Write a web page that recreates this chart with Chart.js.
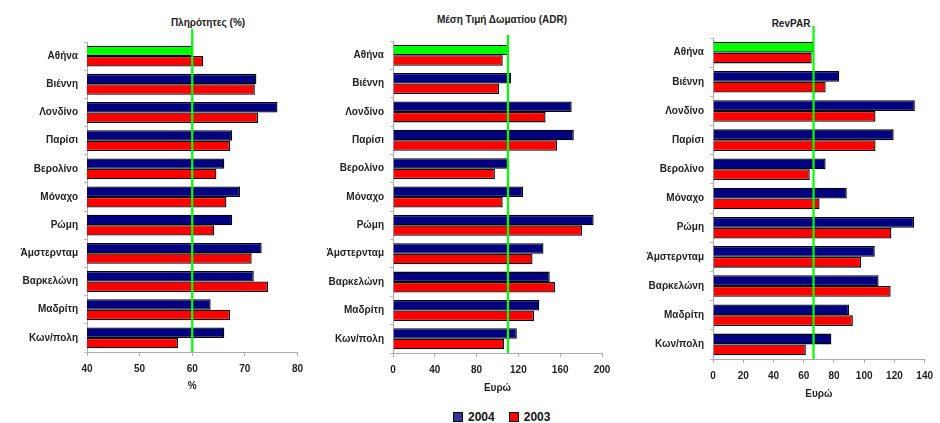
<!DOCTYPE html>
<html><head><meta charset="utf-8">
<script src="https://cdn.jsdelivr.net/npm/chart.js@4"></script>
<style>
body{margin:0;background:#fff;width:940px;height:423px;position:relative;overflow:hidden;font-family:"Liberation Sans",Arial,sans-serif;}
.p{position:absolute;}
.t{position:absolute;font:bold 10px "Liberation Sans",Arial,sans-serif;color:#222;transform:translateX(-50%);white-space:nowrap;}
.lg{position:absolute;top:410px;left:453px;font:bold 12px "Liberation Sans",Arial,sans-serif;color:#111;display:flex;align-items:center;}
.sq{display:inline-block;width:8px;height:8px;border:1px solid #000;margin-right:5px;}
</style></head><body>
<div class="t" style="left:208px;top:17px">Πληρότητες (%)</div>
<div class="t" style="left:502px;top:14px">Μέση Τιμή Δωματίου (ADR)</div>
<div class="t" style="left:791px;top:18px">RevPAR</div>
<div class="p" style="left:0;top:0;width:310px;height:400px"><canvas id="c1"></canvas></div>
<div class="p" style="left:310px;top:0;width:310px;height:400px"><canvas id="c2"></canvas></div>
<div class="p" style="left:620px;top:0;width:320px;height:410px"><canvas id="c3"></canvas></div>
<div class="lg"><span class="sq" style="background:#333399"></span>2004<span style="width:14px"></span><span class="sq" style="background:#ff0000"></span>2003</div>
<script>
const cities = ['Αθήνα','Βιέννη','Λονδίνο','Παρίσι','Βερολίνο','Μόναχο','Ρώμη','Άμστερνταμ','Βαρκελώνη','Μαδρίτη','Κων/πολη'];
const occ2004 = [60.0, 72.2, 76.2, 67.6, 66.1, 69.1, 67.6, 73.2, 71.7, 63.5, 66.1];
const occ2003 = [62.1, 71.9, 72.5, 67.2, 64.6, 66.5, 64.2, 71.3, 74.4, 67.2, 57.3];
const adr2004 = [110, 113, 171, 173, 111, 124.5, 192, 144, 150, 140, 118.5];
const adr2003 = [105, 101.5, 146, 157, 97.5, 105, 181, 133.5, 155, 135, 106.5];
const rev2004 = [66.5, 83.5, 133.5, 119.5, 74.5, 88.5, 133, 107, 109.5, 90, 78.3];
const rev2003 = [65.3, 74.5, 107.5, 107.5, 64, 70.5, 118, 98, 117.5, 92.5, 61.4];
const occTicks = [40,50,60,70,80];
const adrTicks = [0,40,80,120,160,200];
const revTicks = [0,20,40,60,80,100,120,140];

const NAVY='#000080', RED='#ff0000', GREEN='#00ff00';

const refLine = {
  id:'refLine',
  afterDatasetsDraw(chart, args, opts){
    const x = chart.scales.x.getPixelForValue(opts.value);
    const ctx = chart.ctx;
    ctx.save();
    ctx.strokeStyle = GREEN; ctx.lineWidth = 2.2;
    ctx.beginPath();
    ctx.moveTo(x, chart.chartArea.top - opts.extend);
    ctx.lineTo(x, chart.chartArea.bottom);
    ctx.stroke();
    ctx.restore();
  }
};

function make(id, d04, d03, ticks, xTitle, yW, pad, xH, ext, tPadB){
  const min = ticks[0], max = ticks[ticks.length-1];
  new Chart(document.getElementById(id), {
    type:'bar',
    data:{labels:cities, datasets:[
      {label:'2004', data:d04, backgroundColor:d04.map((v,i)=>i===0?GREEN:NAVY), borderColor:'#000', borderWidth:1.3},
      {label:'2003', data:d03, backgroundColor:RED, borderColor:'#000', borderWidth:1.3}
    ]},
    options:{
      indexAxis:'y', responsive:true, maintainAspectRatio:false, animation:false,
      layout:{padding:pad},
      datasets:{bar:{categoryPercentage:0.74, barPercentage:1.0}},
      plugins:{legend:{display:false}, tooltip:{enabled:false}, title:{display:false},
        refLine:{value:d04[0], extend:ext}},
      scales:{
        x:{type:'linear', min:min, max:max, afterBuildTicks(s){s.ticks = ticks.map(v=>({value:v}));},
          afterFit(s){s.height = xH;},
          grid:{drawOnChartArea:false, drawTicks:true, tickLength:4, color:'#aaa'},
          border:{color:'#aaa', width:1},
          ticks:{font:{family:'Liberation Sans', size:10, weight:'bold'}, color:'#222', padding:7},
          title:{display:true, text:xTitle, font:{family:'Liberation Sans', size:10, weight:'bold'}, color:'#222', padding:{top:2,bottom:tPadB}}
        },
        y:{afterFit(s){s.width = yW;},
          grid:{drawOnChartArea:false, drawTicks:true, tickLength:3, color:'#bbb', offset:true},
          border:{color:'#aaa', width:1},
          ticks:{font:{family:'Liberation Sans', size:10, weight:'bold'}, color:'#222', padding:6}
        }
      }
    },
    plugins:[refLine]
  });
}
make('c1', occ2004, occ2003, occTicks, '%', 87, {top:42, right:10, left:0, bottom:0}, 48, 13, 8);
make('c2', adr2004, adr2003, adrTicks, 'Ευρώ', 83, {top:41, right:18, left:0, bottom:0}, 47, 6, 6);
make('c3', rev2004, rev2003, revTicks, 'Ευρώ', 93, {top:38, right:12, left:0, bottom:0}, 51, 12, 10);
</script>
</body></html>
